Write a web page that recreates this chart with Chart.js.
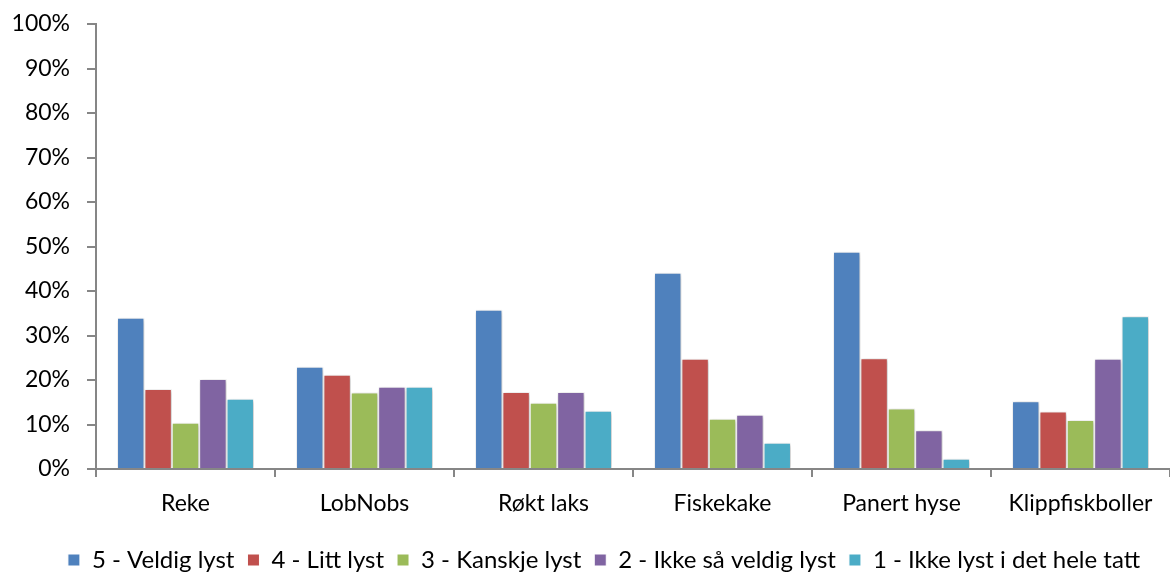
<!DOCTYPE html>
<html>
<head>
<meta charset="utf-8">
<script src="https://cdn.jsdelivr.net/npm/chart.js@4"></script>
<style>
  html, body { margin: 0; padding: 0; background: #fff; }
  #wrap { width: 1170px; height: 572px; }
</style>
</head>
<body>
<div id="wrap"><canvas id="c" width="1170" height="572"></canvas></div>
<script>
// Products rated
const categories = ['Reke', 'LobNobs', 'Røkt laks', 'Fiskekake', 'Panert hyse', 'Klippfiskboller'];

// Share of answers per rating (percent)
const veldigLyst   = [34.0, 23.0, 35.8, 44.1, 48.8, 15.2];
const littLyst     = [18.0, 21.2, 17.3, 24.8, 24.9, 12.9];
const kanskjeLyst  = [10.4, 17.2, 14.9, 11.3, 13.6, 11.0];
const ikkeSaaLyst  = [20.2, 18.5, 17.3, 12.2,  8.7, 24.8];
const ikkeLyst     = [15.8, 18.5, 13.1,  5.9,  2.3, 34.3];

const seriesNames = [
  '5 - Veldig lyst',
  '4 - Litt lyst',
  '3 - Kanskje lyst',
  '2 - Ikke så veldig lyst',
  '1 - Ikke lyst i det hele tatt'
];
const seriesColors = ['#4F81BD', '#C0504D', '#9BBB59', '#8064A2', '#4BACC6'];
const seriesValues = [veldigLyst, littLyst, kanskjeLyst, ikkeSaaLyst, ikkeLyst];

const FONT = 'Lato, "Open Sans", sans-serif';
const AXIS = '#868686';

// Soft drop shadow behind the bars
const barShadow = {
  id: 'barShadow',
  beforeDatasetsDraw(chart) {
    const ctx = chart.ctx;
    ctx.save();
    ctx.shadowColor = 'rgba(0,0,0,0.28)';
    ctx.shadowBlur = 4;
    ctx.shadowOffsetX = 1;
    ctx.shadowOffsetY = 1;
  },
  afterDatasetsDraw(chart) {
    chart.ctx.restore();
  }
};

// Nudge the legend row a little to the right so it sits under the plot area
const legendNudge = {
  id: 'legendNudge',
  afterLayout(chart) {
    const lg = chart.legend;
    if (lg) { lg.left += 19; lg.right += 19; }
  }
};

new Chart(document.getElementById('c'), {
  type: 'bar',
  data: {
    labels: categories,
    datasets: seriesValues.map((vals, i) => ({
      label: seriesNames[i],
      data: vals,
      backgroundColor: seriesColors[i],
      borderColor: '#ffffff',
      borderWidth: 1,
      categoryPercentage: 0.765,
      barPercentage: 1.0
    }))
  },
  options: {
    responsive: false,
    animation: false,
    layout: { padding: { top: 24, right: 0, left: 0, bottom: -10 } },
    scales: {
      x: {
        offset: true,
        afterFit(scale) { scale.height = 66; },
        border: { display: true, color: AXIS, width: 2 },
        grid: { display: true, offset: true, drawOnChartArea: false, drawTicks: true, tickLength: 8, color: AXIS, lineWidth: 2 },
        ticks: { color: '#000', font: { family: FONT, size: 23 }, padding: 13 }
      },
      y: {
        min: 0,
        max: 100,
        afterFit(scale) { scale.width = 96; scale.paddingTop = 0; },
        border: { display: true, color: AXIS, width: 2 },
        grid: { display: true, drawOnChartArea: false, drawTicks: true, tickLength: 9, color: AXIS, lineWidth: 2 },
        ticks: {
          stepSize: 10,
          color: '#000',
          padding: 17,
          font: { family: FONT, size: 23 },
          callback: v => v + '%'
        }
      }
    },
    plugins: {
      legend: {
        position: 'bottom',
        labels: {
          color: '#000',
          font: { family: FONT, size: 24 },
          boxWidth: 12,
          boxHeight: 12,
          padding: 13,
          useBorderRadius: false
        }
      },
      tooltip: { enabled: false }
    }
  },
  plugins: [barShadow, legendNudge]
});
</script>
</body>
</html>
